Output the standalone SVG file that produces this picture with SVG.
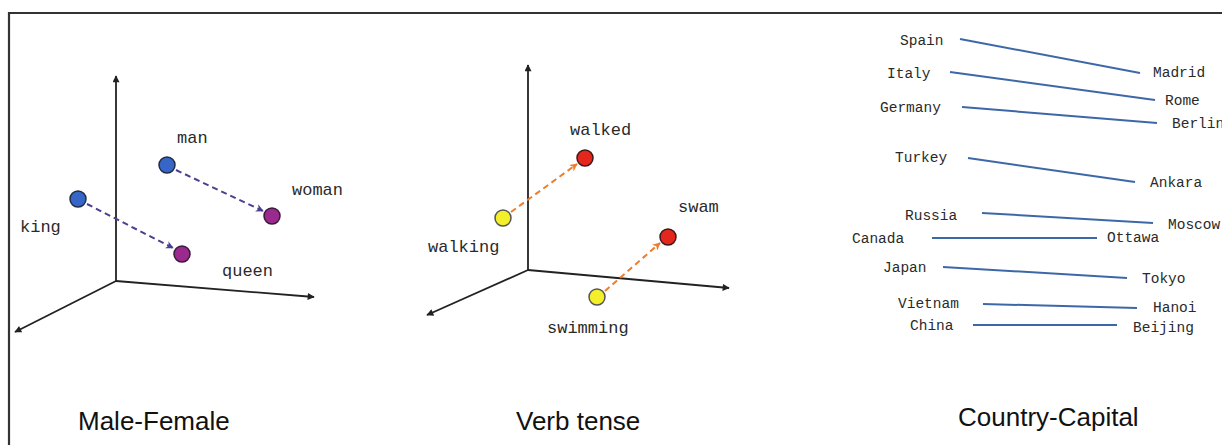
<svg xmlns="http://www.w3.org/2000/svg" width="1222" height="445" viewBox="0 0 1222 445">
<style>
.ax{stroke:#222;stroke-width:1.8;fill:none}
.lbl{font-family:"Liberation Mono","Courier New",monospace;font-size:17px;fill:#2a2a2a}
.cl{font-family:"Liberation Mono","Courier New",monospace;font-size:14.5px;fill:#2a2a2a}
.ttl{font-family:"Liberation Sans",Arial,sans-serif;font-size:26px;fill:#111}
.cap{stroke:#3d68a8;stroke-width:2;fill:none}
.dp{stroke:#4b3f8f;stroke-width:2;stroke-dasharray:6,4;fill:none}
.do{stroke:#f07c2c;stroke-width:2;stroke-dasharray:6,4;fill:none}
.blue{fill:#3566c8;stroke:#222c44;stroke-width:1.5}
.purp{fill:#9a2a8e;stroke:#3a1a3a;stroke-width:1.5}
.yel{fill:#f3ef2a;stroke:#555;stroke-width:1.5}
.red{fill:#e4261c;stroke:#3a1a1a;stroke-width:1.5}
</style>
<defs>
<marker id="ah" viewBox="0 0 10 10" refX="9" refY="5" markerWidth="8" markerHeight="7" orient="auto" markerUnits="userSpaceOnUse">
<path d="M0,0 L10,5 L0,10 z" fill="#222"/>
</marker>
<marker id="ap" viewBox="0 0 10 10" refX="9" refY="5" markerWidth="8" markerHeight="8" orient="auto" markerUnits="userSpaceOnUse">
<path d="M0,0 L10,5 L0,10 L3,5 z" fill="#4b3f8f"/>
</marker>
<marker id="ao" viewBox="0 0 10 10" refX="9" refY="5" markerWidth="8" markerHeight="8" orient="auto" markerUnits="userSpaceOnUse">
<path d="M0,0 L10,5 L0,10 L3,5 z" fill="#f07c2c"/>
</marker>
</defs>
<rect width="1222" height="445" fill="#fff"/>
<path d="M9,445 V13 H1222" stroke="#333" stroke-width="2.2" fill="none"/>

<g id="axes">
<path class="ax" d="M116,281 V76" marker-end="url(#ah)"/>
<path class="ax" d="M116,281 L314,297" marker-end="url(#ah)"/>
<path class="ax" d="M116,281 L15,332" marker-end="url(#ah)"/>
<path class="ax" d="M528,270 V65" marker-end="url(#ah)"/>
<path class="ax" d="M528,270 L729,288" marker-end="url(#ah)"/>
<path class="ax" d="M528,270 L427,315" marker-end="url(#ah)"/>
</g>

<g id="connectors">
<path class="dp" d="M87,204 L173,248" marker-end="url(#ap)"/>
<path class="dp" d="M176,170 L263,211" marker-end="url(#ap)"/>
<path class="do" d="M511,212 L577,164" marker-end="url(#ao)"/>
<path class="do" d="M605,291 L660,243" marker-end="url(#ao)"/>
<path class="cap" d="M960,39 L1140,73"/>
<path class="cap" d="M950,72 L1155,100"/>
<path class="cap" d="M962,107 L1157,123"/>
<path class="cap" d="M968,158 L1135,182"/>
<path class="cap" d="M982,213 L1153,223"/>
<path class="cap" d="M932,238 L1097,238"/>
<path class="cap" d="M943,267 L1127,278"/>
<path class="cap" d="M983,304 L1137,308"/>
<path class="cap" d="M973,325 L1117,325"/>
</g>

<g id="king"><circle class="blue" cx="78" cy="199" r="8"/><text class="lbl" x="20" y="232">king</text></g>
<g id="man"><circle class="blue" cx="167" cy="165" r="8"/><text class="lbl" x="177" y="143">man</text></g>
<g id="queen"><circle class="purp" cx="182" cy="254" r="8"/><text class="lbl" x="222" y="276">queen</text></g>
<g id="woman"><circle class="purp" cx="272" cy="216" r="8"/><text class="lbl" x="292" y="195">woman</text></g>

<g id="walking"><circle class="yel" cx="503" cy="218" r="8"/><text class="lbl" x="428" y="252">walking</text></g>
<g id="walked"><circle class="red" cx="585" cy="158" r="8"/><text class="lbl" x="570" y="135">walked</text></g>
<g id="swimming"><circle class="yel" cx="597" cy="297" r="8"/><text class="lbl" x="547" y="333">swimming</text></g>
<g id="swam"><circle class="red" cx="668" cy="237" r="8"/><text class="lbl" x="678" y="212">swam</text></g>

<g id="countries">
<text class="cl" x="900" y="45">Spain</text>
<text class="cl" x="887" y="78">Italy</text>
<text class="cl" x="880" y="112">Germany</text>
<text class="cl" x="895" y="162">Turkey</text>
<text class="cl" x="905" y="220">Russia</text>
<text class="cl" x="852" y="243">Canada</text>
<text class="cl" x="883" y="272">Japan</text>
<text class="cl" x="898" y="308">Vietnam</text>
<text class="cl" x="910" y="330">China</text>
</g>
<g id="capitals">
<text class="cl" x="1153" y="77">Madrid</text>
<text class="cl" x="1165" y="105">Rome</text>
<text class="cl" x="1172" y="128">Berlin</text>
<text class="cl" x="1150" y="187">Ankara</text>
<text class="cl" x="1168" y="229">Moscow</text>
<text class="cl" x="1107" y="242">Ottawa</text>
<text class="cl" x="1142" y="283">Tokyo</text>
<text class="cl" x="1153" y="312">Hanoi</text>
<text class="cl" x="1133" y="332">Beijing</text>
</g>

<g id="titles">
<text class="ttl" x="78" y="430">Male-Female</text>
<text class="ttl" x="516" y="430">Verb tense</text>
<text class="ttl" x="958" y="426">Country-Capital</text>
</g>
</svg>
